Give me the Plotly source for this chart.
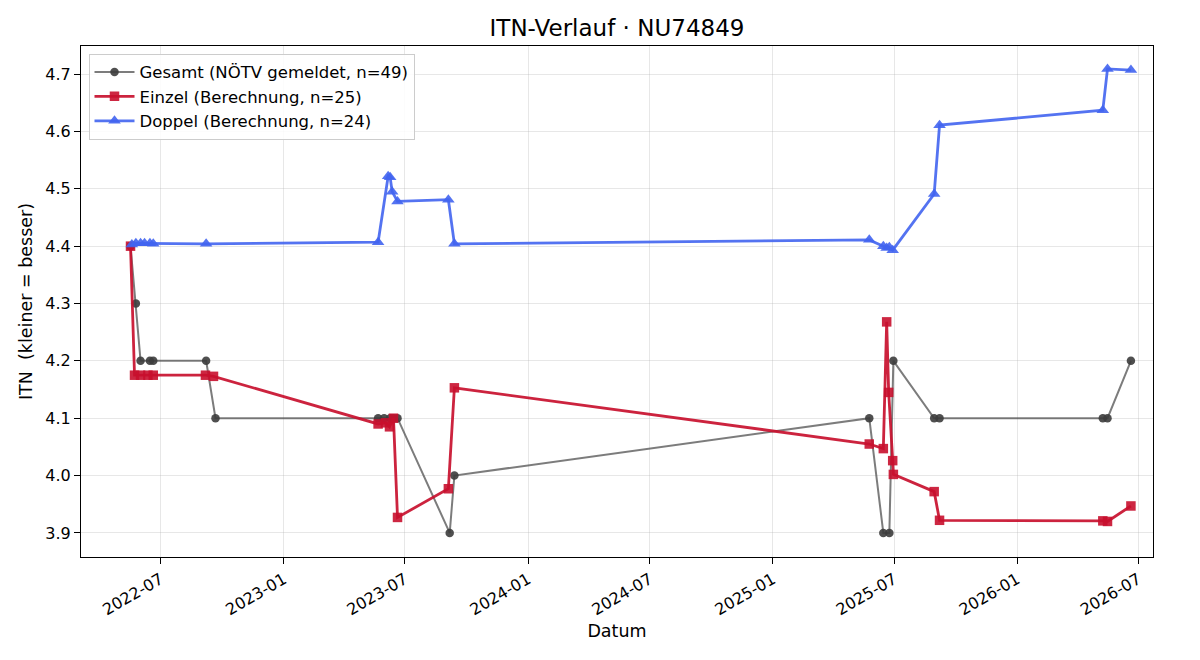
import plotly.graph_objects as go

gesamt_dates = ["2022-05-17", "2022-05-25", "2022-06-01", "2022-06-15", "2022-06-20", "2022-09-07",
                "2022-09-21", "2023-05-22", "2023-05-31", "2023-06-09", "2023-06-14", "2023-06-20",
                "2023-09-06", "2023-09-13", "2025-05-25", "2025-06-15", "2025-06-24", "2025-06-30",
                "2025-08-30", "2025-09-07", "2026-05-09", "2026-05-16", "2026-06-20"]
gesamt_vals = [4.4, 4.3, 4.2, 4.2, 4.2, 4.2, 4.1, 4.1, 4.1, 4.1, 4.1, 4.1, 3.9, 4.0,
               4.1, 3.9, 3.9, 4.2, 4.1, 4.1, 4.1, 4.1, 4.2]

einzel_dates = ["2022-05-17", "2022-05-23", "2022-06-01", "2022-06-12", "2022-06-20", "2022-09-06",
                "2022-09-18", "2023-05-22", "2023-06-02", "2023-06-08", "2023-06-14", "2023-06-20",
                "2023-09-04", "2023-09-13", "2025-05-25", "2025-06-15", "2025-06-20", "2025-06-23",
                "2025-06-29", "2025-06-30", "2025-08-30", "2025-09-07", "2026-05-09", "2026-05-16",
                "2026-06-20"]
einzel_vals = [4.4, 4.175, 4.175, 4.175, 4.175, 4.175, 4.173, 4.09, 4.092, 4.085, 4.10, 3.927,
               3.977, 4.153, 4.055, 4.047, 4.268, 4.145, 4.026, 4.002, 3.972, 3.922, 3.921,
               3.920, 3.947]

doppel_dates = ["2022-05-19", "2022-05-25", "2022-06-01", "2022-06-07", "2022-06-15", "2022-06-20",
                "2022-09-07", "2023-05-22", "2023-06-06", "2023-06-09", "2023-06-12", "2023-06-20",
                "2023-09-04", "2023-09-13", "2025-05-25", "2025-06-15", "2025-06-20", "2025-06-24",
                "2025-06-29", "2025-08-30", "2025-09-07", "2026-05-09", "2026-05-16", "2026-06-20"]
doppel_vals = [4.403, 4.405, 4.405, 4.405, 4.405, 4.404, 4.404, 4.407, 4.522, 4.520, 4.495, 4.478,
               4.481, 4.404, 4.411, 4.400, 4.397, 4.398, 4.393, 4.491, 4.611, 4.637, 4.709, 4.707]

x_ticks = ["2022-07-01", "2023-01-01", "2023-07-01", "2024-01-01", "2024-07-01",
           "2025-01-01", "2025-07-01", "2026-01-01", "2026-07-01"]
x_tick_text = ["2022-07", "2023-01", "2023-07", "2024-01", "2024-07",
               "2025-01", "2025-07", "2026-01", "2026-07"]
y_ticks = [3.9, 4.0, 4.1, 4.2, 4.3, 4.4, 4.5, 4.6, 4.7]

FONT = "DejaVu Sans"

fig = go.Figure()
fig.add_trace(go.Scatter(
    x=gesamt_dates, y=gesamt_vals, mode="lines+markers",
    name="Gesamt (NÖTV gemeldet, n=49)",
    line=dict(color="rgba(68,68,68,0.7)", width=2),
    marker=dict(symbol="circle", size=8.5, color="rgba(60,60,60,0.9)"),
))
fig.add_trace(go.Scatter(
    x=einzel_dates, y=einzel_vals, mode="lines+markers",
    name="Einzel (Berechnung, n=25)",
    line=dict(color="rgba(200,16,46,0.92)", width=2.8),
    marker=dict(symbol="square", size=9.5, color="rgba(200,16,46,0.9)"),
))
fig.add_trace(go.Scatter(
    x=doppel_dates, y=doppel_vals, mode="lines+markers",
    name="Doppel (Berechnung, n=24)",
    line=dict(color="rgba(65,100,240,0.9)", width=2.8),
    marker=dict(symbol="triangle-up", size=11, color="rgba(65,100,240,0.9)"),
))

fig.update_layout(
    width=1200, height=660,
    margin=dict(l=81, r=47, t=46, b=103),
    paper_bgcolor="white", plot_bgcolor="white",
    font=dict(family=FONT, size=16, color="black"),
    title=dict(text="ITN-Verlauf · NU74849", x=0.5, xref="paper", xanchor="center",
               y=1 - 28 / 660, yanchor="middle", font=dict(size=23, family=FONT)),
    legend=dict(x=0.007, y=0.985, xanchor="left", yanchor="top",
                bgcolor="rgba(255,255,255,0.85)", bordercolor="#cccccc", borderwidth=1,
                font=dict(size=16.5, family=FONT), tracegroupgap=0,
                itemwidth=40),
    showlegend=True,
)
fig.update_xaxes(
    range=["2022-03-04", "2026-07-23"],
    tickvals=x_ticks, ticktext=x_tick_text, tickangle=-30,
    tickfont=dict(size=16, family=FONT),
    showgrid=True, gridcolor="rgba(176,176,176,0.3)", gridwidth=1,
    showline=True, linecolor="black", linewidth=1.2, mirror=True,
    ticks="outside", ticklen=6, tickcolor="black",
    title=dict(text="Datum", font=dict(size=17.5, family=FONT), standoff=6),
    zeroline=False,
)
fig.update_yaxes(
    range=[3.858, 4.749],
    tickvals=y_ticks, tickformat=".1f",
    tickfont=dict(size=16, family=FONT),
    showgrid=True, gridcolor="rgba(176,176,176,0.3)", gridwidth=1,
    showline=True, linecolor="black", linewidth=1.2, mirror=True,
    ticks="outside", ticklen=6, tickcolor="black",
    title=dict(text="ITN  (kleiner = besser)", font=dict(size=17.5, family=FONT), standoff=8),
    zeroline=False,
)

fig.write_html("out.html")
